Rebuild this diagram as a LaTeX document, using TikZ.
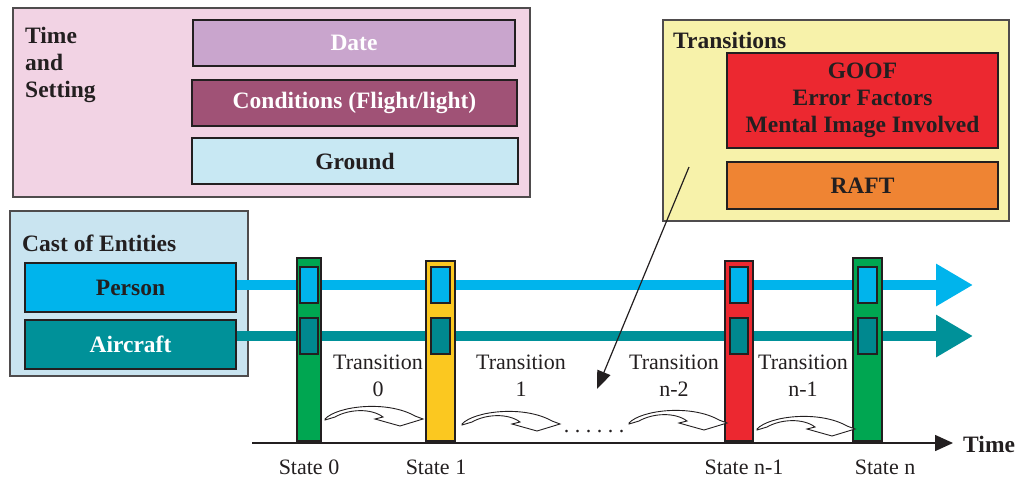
\documentclass[tikz,border=0pt]{standalone}
\usepackage{fontspec}
\setmainfont{Liberation Serif}
\usetikzlibrary{arrows.meta}
\definecolor{ink}{HTML}{231F20}
\definecolor{pinkbg}{HTML}{F2D3E4}
\definecolor{datec}{HTML}{C9A5CD}
\definecolor{condc}{HTML}{A05276}
\definecolor{groundc}{HTML}{C8E8F3}
\definecolor{castbg}{HTML}{C9E4F0}
\definecolor{personc}{HTML}{00B4EC}
\definecolor{aircraftc}{HTML}{009199}
\definecolor{tealbox}{HTML}{00888F}
\definecolor{greenc}{HTML}{00A651}
\definecolor{yellowc}{HTML}{FBC820}
\definecolor{redc}{HTML}{EC2830}
\definecolor{orangec}{HTML}{EF8433}
\definecolor{transbg}{HTML}{F7F2AA}
\tikzset{
  box/.style={draw=ink, line width=1.2pt, inner sep=0pt, minimum width=#1},
  bt/.style={font=\fontsize{23.5}{27}\selectfont\bfseries, text=ink},
  rt/.style={font=\fontsize{22}{27}\selectfont, text=ink},
  statebar/.style={draw=ink, line width=1.2pt, minimum width=27pt, minimum height=181pt, inner sep=0pt},
  cell/.style={draw=ink, line width=1.2pt, minimum width=18pt, minimum height=36pt, inner sep=0pt},
  flow/.style={line width=10pt, -{Triangle[length=37pt,width=40pt]}},
  curvarrow/.pic={
    \draw[draw=ink, fill=white, line width=0.9pt]
      (0,1) .. controls (12,-12) and (62,-18) .. (90,-2) -- (98,1) -- (75,8) -- (50,1) -- (58,-1)
      .. controls (46,-10) and (24,-9) .. (10,-1) -- (0,2) -- cycle;
  }
}
\begin{document}
\begin{tikzpicture}[x=1pt,y=-1pt]
\useasboundingbox (0,0) rectangle (1016,483);

% Time and Setting
\node[box=517pt, minimum height=189pt, fill=pinkbg, draw=ink!80] (tas) at (271.5,102.5) {};
\node[bt, align=left, anchor=north west, inner sep=0pt] (tastitle) at (25,27) {Time\\and\\Setting};
\node[box=322pt, minimum height=46pt, fill=datec, bt, text=white] (date) at (354,43) {Date};
\node[box=325pt, minimum height=46pt, fill=condc, bt, text=white] (cond) at (354.5,103) {Conditions (Flight/light)};
\node[box=326pt, minimum height=46pt, fill=groundc, bt] (ground) at (355,161) {Ground};

% Cast of entities
\node[box=238pt, minimum height=165pt, fill=castbg, draw=ink!80] (cast) at (129,293.5) {};
\node[bt, anchor=base west, inner sep=0pt] (casttitle) at (22,251) {Cast of Entities};
\node[box=211pt, minimum height=49pt, fill=personc, bt] (person) at (130.5,287.5) {Person};
\node[box=211pt, minimum height=49pt, fill=aircraftc, bt, text=white] (aircraft) at (130.5,344.5) {Aircraft};

\coordinate (ptip) at (973,285);
\coordinate (atip) at (973,336);
\draw[flow, personc] (person.east |- ptip) -- (ptip);
\draw[flow, aircraftc] (aircraft.east |- atip) -- (atip);

% Time axis
\coordinate (tstart) at (252,443);
\coordinate (tend) at (953,443);
\node[bt, anchor=west, inner sep=0pt] (time) at (963,444) {Time};
\draw[ink, line width=1.5pt, -{Triangle[length=18pt,width=16pt]}] (tstart) -- (tend);

% States
\node[statebar, fill=greenc, minimum width=24pt, minimum height=183pt] (s0) at (309,349.5) {};
\node[statebar, fill=yellowc, minimum width=29pt, minimum height=180pt] (s1) at (440.5,351) {};
\node[statebar, fill=redc, minimum width=28pt, minimum height=180pt] (sn1) at (739,351) {};
\node[statebar, fill=greenc, minimum width=29pt, minimum height=183pt] (sn) at (867.5,349.5) {};
\foreach \s/\w in {s0/18pt, s1/19pt, sn1/18pt, sn/19pt}{
  \node[cell, fill=personc, minimum width=\w] (\s p) at (\s |- ptip) {};
  \node[cell, fill=tealbox, minimum width=\w] (\s a) at (\s |- atip) {};
}

\node[rt] (l0) at (309,467) {State 0};
\node[rt] (l1) at (436,467) {State 1};
\node[rt] (ln1) at (744,467) {State n-1};
\node[rt] (ln) at (885,467) {State n};

% Transitions
\node[rt, align=center] (t0) at (378,376) {Transition\\0};
\node[rt, align=center] (t1) at (521,376) {Transition\\1};
\node[rt, align=center] (tn2) at (674,376) {Transition\\n-2};
\node[rt, align=center] (tn1) at (803,376) {Transition\\n-1};

\pic at (325,418) {curvarrow};
\pic at (462,423) {curvarrow};
\pic at (629,422) {curvarrow};
\pic at (757,428) {curvarrow};

\node[rt] (dots) at (594,432) {.\hspace{5.5pt}.\hspace{5.5pt}.\hspace{5.5pt}.\hspace{5.5pt}.\hspace{5.5pt}.};

% Transitions box
\node[box=346pt, minimum height=201pt, fill=transbg, draw=ink!80] (trans) at (836,120.5) {};
\node[bt, anchor=base west, inner sep=0pt] (transtitle) at (673,48) {Transitions};
\node[box=271pt, minimum height=95pt, fill=redc, bt, align=center] (goof) at (862.5,100.5) {GOOF\\Error Factors\\Mental Image Involved};
\node[box=271pt, minimum height=47pt, fill=orangec, bt] (raft) at (862.5,185.5) {RAFT};

\coordinate (dfrom) at (689,167);
\coordinate (dto) at (597,389);
\draw[ink, line width=1.2pt, -{Triangle[length=18pt,width=14pt]}] (dfrom) -- (dto);
\end{tikzpicture}
\end{document}
